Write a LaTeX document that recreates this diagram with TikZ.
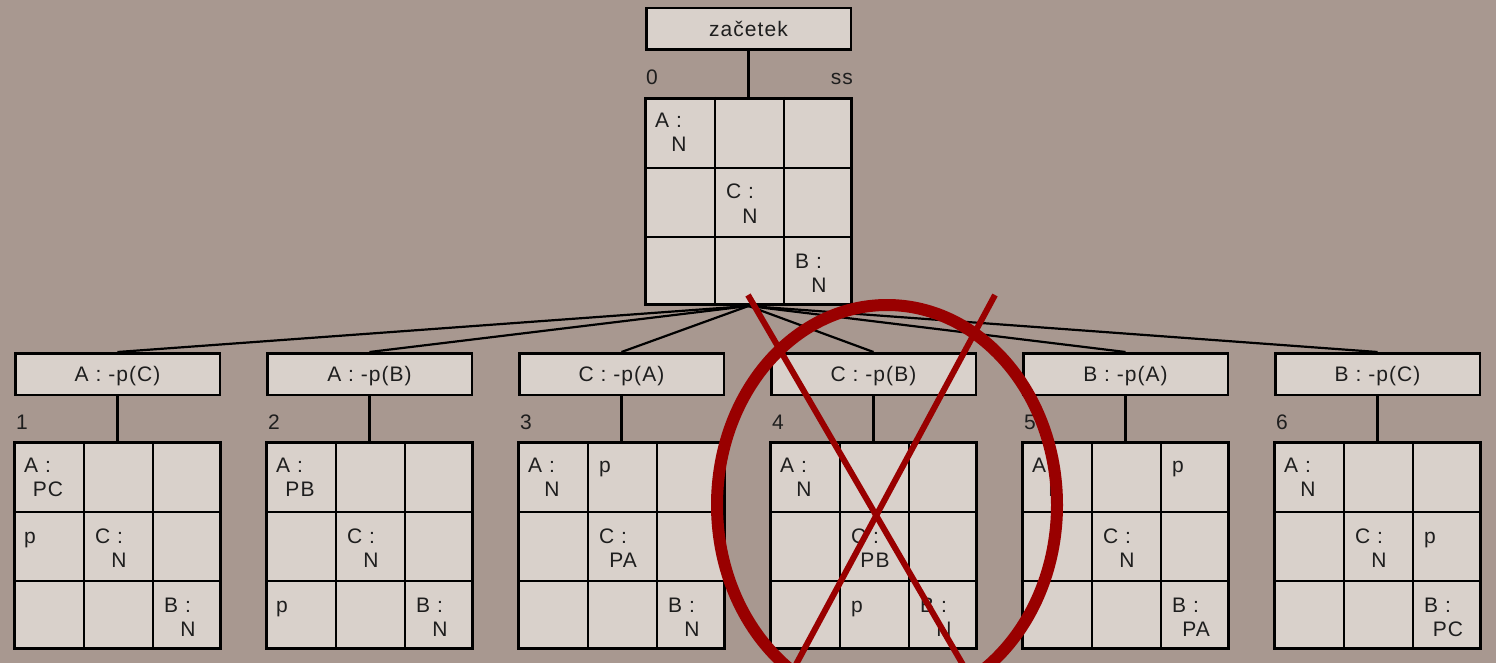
\documentclass[tikz,border=0pt]{standalone}
\usepackage{fontspec}
\setmainfont{Liberation Sans}[LetterSpace=5]

\definecolor{bg}{RGB}{168,152,144}
\definecolor{boxfill}{RGB}{217,209,203}
\definecolor{crossred}{RGB}{153,0,0}
\definecolor{ink}{RGB}{30,30,30}

% one piece in a cell: grid, column, row, letter, state
\newcommand{\piece}[5]{%
  \pgfmathsetmacro{\cellx}{{0,71,140}[#2]}
  \pgfmathsetmacro{\celly}{{0,71,140}[#3]}
  \node[celltxt, anchor=base west] (#1-#4) at ([xshift=\cellx pt+11pt, yshift=-\celly pt-31pt]#1.north west) {#4 :};
  \node[celltxt, anchor=base] (#1-#4s) at ([xshift=\cellx pt+35pt, yshift=-\celly pt-55pt]#1.north west) {#5};
}
% a pawn mark: grid, column, row
\newcommand{\pawn}[3]{%
  \pgfmathsetmacro{\cellx}{{0,71,140}[#2]}
  \pgfmathsetmacro{\celly}{{0,71,140}[#3]}
  \node[celltxt, anchor=base west] (#1-p) at ([xshift=\cellx pt+11pt, yshift=-\celly pt-31pt]#1.north west) {p};
}

\begin{document}
\begin{tikzpicture}[x=1pt, y=-1pt,
    celltxt/.style={inner sep=0pt, text=ink, font=\fontsize{21}{25}\selectfont},
    movebox/.style={draw, fill=boxfill, line width=2.5pt, anchor=north west,
      minimum width=204.5pt, minimum height=41.5pt, inner sep=0pt,
      text depth=1pt, text=ink, font=\fontsize{21}{25}\selectfont},
    boardbox/.style={draw, fill=boxfill, line width=3pt, anchor=north west,
      minimum width=206pt, minimum height=206pt, inner sep=0pt},
    cellline/.style={line width=1.6pt},
    link/.style={line width=2.2pt},
    crossmark/.style={draw=crossred, line cap=butt}]
    \fill[bg] (0,0) rectangle (1496,663);
    \clip (0,0) rectangle (1496,663);

    % root
    \node[movebox] (start) at (645,7) {začetek};
    \node[boardbox] (g0) at (644,97) {};
    \draw[link] (start.south) -- (g0.north);
    \node[celltxt, anchor=base west] (n0) at ([xshift=2pt, yshift=12pt]g0.north west) {0};
    \node[celltxt, anchor=base east] (ss) at ([yshift=12pt]g0.north east) {ss};

    % moves
    \foreach \i/\mv in {1/A : -p(C), 2/A : -p(B), 3/C : -p(A), 4/C : -p(B), 5/B : -p(A), 6/B : -p(C)}{
        \node[movebox] (m\i) at ({14+252*(\i-1)},352) {\mv};
        \node[boardbox] (g\i) at ({13+252*(\i-1)},441) {};
        \draw[link] (g0.south) -- (m\i.north);
        \draw[link] (m\i.south) -- (g\i.north);
        \node[celltxt, anchor=base west] (n\i) at ([xshift=3pt, yshift=12pt]g\i.north west) {\i};
    }

    % cell lines
    \foreach \g in {0,...,6}{
        \foreach \d in {71,140}{
            \draw[cellline] ([xshift=\d pt]g\g.north west) -- ([xshift=\d pt]g\g.south west);
            \draw[cellline] ([yshift=-\d pt]g\g.north west) -- ([yshift=-\d pt]g\g.north east);
        }
    }

    % pieces
    \piece{g0}{0}{0}{A}{N} \piece{g0}{1}{1}{C}{N} \piece{g0}{2}{2}{B}{N}
    \piece{g1}{0}{0}{A}{PC} \pawn{g1}{0}{1} \piece{g1}{1}{1}{C}{N} \piece{g1}{2}{2}{B}{N}
    \piece{g2}{0}{0}{A}{PB} \piece{g2}{1}{1}{C}{N} \pawn{g2}{0}{2} \piece{g2}{2}{2}{B}{N}
    \piece{g3}{0}{0}{A}{N} \pawn{g3}{1}{0} \piece{g3}{1}{1}{C}{PA} \piece{g3}{2}{2}{B}{N}
    \piece{g4}{0}{0}{A}{N} \piece{g4}{1}{1}{C}{PB} \pawn{g4}{1}{2} \piece{g4}{2}{2}{B}{N}
    \piece{g5}{0}{0}{A}{N} \pawn{g5}{2}{0} \piece{g5}{1}{1}{C}{N} \piece{g5}{2}{2}{B}{PA}
    \piece{g6}{0}{0}{A}{N} \piece{g6}{1}{1}{C}{N} \pawn{g6}{2}{1} \piece{g6}{2}{2}{B}{PC}

    % crossed out
    \draw[crossmark, line width=12pt] (887,505) ellipse [x radius=170pt, y radius=200pt];
    \draw[crossmark, line width=6pt] (748,295) -- (966,670);
    \draw[crossmark, line width=6pt] (995,295) -- (793,670);
\end{tikzpicture}
\end{document}
